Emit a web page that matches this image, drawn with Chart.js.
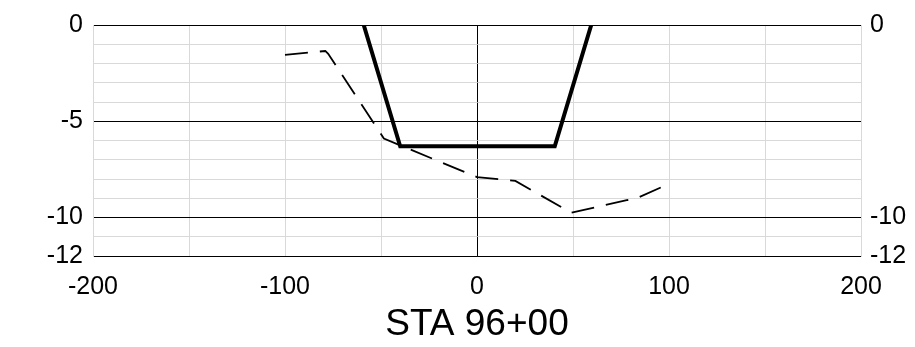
<!DOCTYPE html>
<html>
<head>
<meta charset="utf-8">
<script src="https://cdn.jsdelivr.net/npm/chart.js@4"></script>
<style>
  body { margin: 0; background: #fff; }
</style>
</head>
<body>
<canvas id="sta" width="915" height="347"></canvas>
<script>
// design section (solid) and existing ground (dashed)
const designX = [-59, -40, 40.5, 59.5];
const designY = [0, -6.3, -6.3, 0];
const groundX = [-100, -79, -77.5, -48.5, 0, 20, 49, 78, 82, 100];
const groundY = [-1.55, -1.35, -1.5, -5.9, -7.9, -8.1, -9.75, -9.1, -9.05, -8.25];
const yLabels = [0, -5, -10, -12];
const yLabelsRight = [0, -10, -12];
const xLabels = [-200, -100, 0, 100, 200];

const fontFam = '"Liberation Sans", Arial, sans-serif';

function pts(xs, ys) {
  return xs.map((x, i) => ({ x: x, y: ys[i] }));
}

function yTicks(axis) {
  axis.ticks = [];
  for (let v = -12; v <= 0; v++) axis.ticks.push({ value: v });
}

const grafsta = document.getElementById('sta');
new Chart(grafsta, {
  type: 'scatter',
  data: {
    datasets: [
      {
        data: pts(designX, designY),
        showLine: true,
        borderColor: '#000',
        borderWidth: 4,
        pointRadius: 0,
        tension: 0
      },
      {
        data: pts(groundX, groundY),
        showLine: true,
        borderColor: '#000',
        borderWidth: 1.8,
        borderDash: [23, 12],
        pointRadius: 0,
        tension: 0
      }
    ]
  },
  options: {
    responsive: false,
    animation: false,
    events: [],
    layout: { padding: { top: 25, left: 0, right: 0, bottom: 0 } },
    plugins: { legend: { display: false }, tooltip: { enabled: false } },
    scales: {
      x: {
        type: 'linear',
        position: 'bottom',
        min: -200,
        max: 200,
        afterBuildTicks: (axis) => {
          axis.ticks = [];
          for (let v = -200; v <= 200; v += 50) axis.ticks.push({ value: v });
        },
        afterFit: (axis) => { axis.height = 91; },
        ticks: {
          autoSkip: false,
          maxRotation: 0,
          padding: 16,
          color: '#000',
          font: { family: fontFam, size: 25 },
          callback: (v) => xLabels.includes(v) ? String(v) : ''
        },
        grid: {
          drawTicks: false,
          color: (c) => c.tick && c.tick.value === 0 ? '#000' : '#d9d9d9',
          lineWidth: 1
        },
        border: { display: true, color: '#000', width: 1 },
        title: {
          display: true,
          text: 'STA 96+00',
          color: '#000',
          font: { family: fontFam, size: 37 },
          padding: { top: 0, bottom: 0 }
        }
      },
      y: {
        type: 'linear',
        position: 'left',
        min: -12,
        max: 0,
        afterBuildTicks: yTicks,
        afterFit: (axis) => { axis.width = 93; },
        ticks: {
          autoSkip: false,
          padding: 10,
          color: '#000',
          font: { family: fontFam, size: 25 },
          callback: (v) => yLabels.includes(v) ? String(v) : ''
        },
        grid: {
          drawTicks: false,
          color: (c) => c.tick && yLabels.includes(c.tick.value) ? '#000' : '#d9d9d9',
          lineWidth: 1
        },
        border: { display: true, color: '#d9d9d9', width: 1 }
      },
      y2: {
        type: 'linear',
        position: 'right',
        min: -12,
        max: 0,
        afterBuildTicks: yTicks,
        afterFit: (axis) => { axis.width = 54; },
        ticks: {
          autoSkip: false,
          padding: 9,
          color: '#000',
          font: { family: fontFam, size: 25 },
          callback: (v) => yLabelsRight.includes(v) ? String(v) : ''
        },
        grid: { display: false, drawTicks: false },
        border: { display: true, color: '#d9d9d9', width: 1 }
      }
    }
  }
});
</script>
</body>
</html>
